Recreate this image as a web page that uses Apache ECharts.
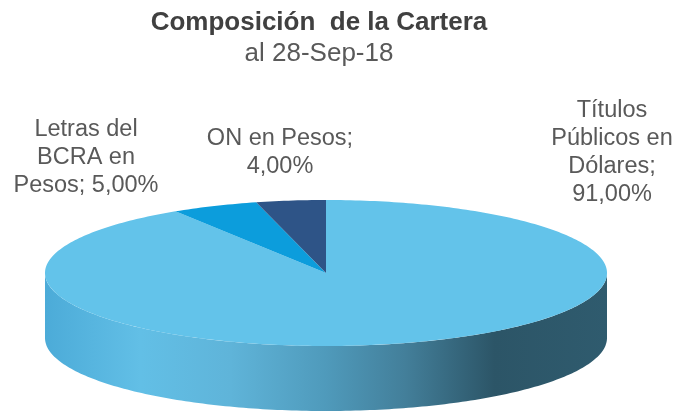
<!DOCTYPE html>
<html><head><meta charset="utf-8">
<style>html,body{margin:0;padding:0;background:#fff}#c{width:677px;height:411px}</style>
<script src="https://cdn.jsdelivr.net/npm/echarts@6/dist/echarts.min.js"></script>
</head><body><div id="c"></div>
<script>
const chartTitle = 'Composición  de la Cartera';
const chartSubtitle = 'al 28-Sep-18';
const categories = ['Títulos\nPúblicos en\nDólares;', 'Letras del\nBCRA en\nPesos;', 'ON en Pesos;'];
const values = [91, 5, 4];
const valueLabels = ['91,00%', '5,00%', '4,00%'];
const sliceColors = ['#63c3ea', '#0c9ddc', '#2e5487'];

const CX = 326, CY = 273, RX = 281, RY = 73, DEPTH = 65;
const labelPos = [[612, 153], [86, 158], [280, 153]];
const labelSep = ['\n', ' ', '\n'];
const total = values.reduce((a, b) => a + b, 0);

function ellipsePoint(frac, dy) {
  const a = frac * Math.PI * 2;
  return [CX + RX * Math.sin(a), CY + (dy || 0) - RY * Math.cos(a)];
}
function sectorPoints(from, to) {
  const pts = [[CX, CY]];
  const n = Math.max(8, Math.ceil((to - from) * 360));
  for (let i = 0; i <= n; i++) pts.push(ellipsePoint(from + (to - from) * i / n));
  return pts;
}
function wallPoints() {
  const pts = [];
  const n = 180;
  for (let i = 0; i <= n; i++) { const f = 0.25 + 0.5 * i / n; pts.push(ellipsePoint(f)); }
  for (let i = n; i >= 0; i--) { const f = 0.25 + 0.5 * i / n; pts.push(ellipsePoint(f, DEPTH)); }
  return pts;
}
const wallFill = new echarts.graphic.LinearGradient(0, 0, 1, 0, [
  { offset: 0, color: '#4cabd8' },
  { offset: 0.17, color: '#62bfe6' },
  { offset: 0.33, color: '#5fb4d9' },
  { offset: 0.5, color: '#4f9abb' },
  { offset: 0.64, color: '#437f9a' },
  { offset: 0.8, color: '#2c5567' },
  { offset: 1, color: '#2f5b6e' }
]);

let cum = 0;
const seriesData = values.map((v, i) => {
  const item = { name: categories[i], value: [v, cum], itemStyle: { color: sliceColors[i] } };
  cum += v;
  return item;
});

const option = {
  animation: false,
  backgroundColor: '#fff',
  title: {
    text: chartTitle, subtext: chartSubtitle, left: 314, top: 4, textAlign: 'center',
    itemGap: 4,
    textStyle: { fontFamily: 'Liberation Sans', fontSize: 26, fontWeight: 'bold', color: '#404040', lineHeight: 28 },
    subtextStyle: { fontFamily: 'Liberation Sans', fontSize: 26, color: '#595959', lineHeight: 26 }
  },
  series: [{
    type: 'custom',
    coordinateSystem: 'none',
    data: seriesData,
    renderItem: (params, api) => {
      const i = params.dataIndex;
      const from = api.value(1) / total, to = (api.value(1) + api.value(0)) / total;
      const children = [];
      if (i === 0) {
        children.push({ type: 'polygon', shape: { points: wallPoints() }, style: { fill: wallFill } });
      }
      children.push({ type: 'polygon', shape: { points: sectorPoints(from, to) }, style: { fill: sliceColors[i] } });
      children.push({
        type: 'text',
        x: labelPos[i][0], y: labelPos[i][1],
        style: {
          text: categories[i] + labelSep[i] + valueLabels[i],
          align: 'center', verticalAlign: 'middle',
          fontFamily: 'Liberation Sans', fontSize: 23.5, lineHeight: 28, fill: '#595959'
        }
      });
      return { type: 'group', children };
    }
  }]
};
echarts.init(document.getElementById('c'), null, { renderer: 'canvas' }).setOption(option);
</script></body></html>
